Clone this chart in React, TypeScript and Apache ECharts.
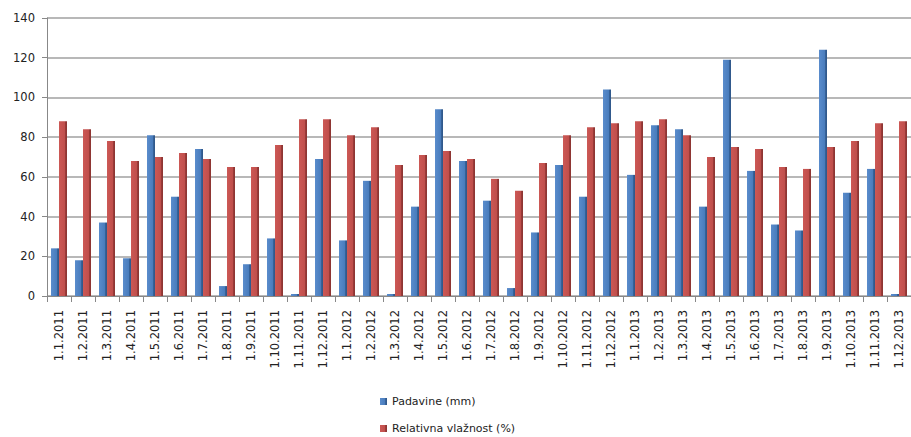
import React, { useEffect, useRef } from "react";
import * as echarts from "echarts";

const categories = [
  "1.1.2011", "1.2.2011", "1.3.2011", "1.4.2011", "1.5.2011", "1.6.2011",
  "1.7.2011", "1.8.2011", "1.9.2011", "1.10.2011", "1.11.2011", "1.12.2011",
  "1.1.2012", "1.2.2012", "1.3.2012", "1.4.2012", "1.5.2012", "1.6.2012",
  "1.7.2012", "1.8.2012", "1.9.2012", "1.10.2012", "1.11.2012", "1.12.2012",
  "1.1.2013", "1.2.2013", "1.3.2013", "1.4.2013", "1.5.2013", "1.6.2013",
  "1.7.2013", "1.8.2013", "1.9.2013", "1.10.2013", "1.11.2013", "1.12.2013",
];

const padavine = [
  24, 18, 37, 19, 81, 50, 74, 5, 16, 29, 1, 69,
  28, 58, 1, 45, 94, 68, 48, 4, 32, 66, 50, 104,
  61, 86, 84, 45, 119, 63, 36, 33, 124, 52, 64, 1,
];

const vlaznost = [
  88, 84, 78, 68, 70, 72, 69, 65, 65, 76, 89, 89,
  81, 85, 66, 71, 73, 69, 59, 53, 67, 81, 85, 87,
  88, 89, 81, 70, 75, 74, 65, 64, 75, 78, 87, 88,
];

const seriesNames = ["Padavine (mm)", "Relativna vlažnost (%)"];

const blueGrad = new echarts.graphic.LinearGradient(0, 0, 1, 0, [
  { offset: 0, color: "#5a8ccc" },
  { offset: 0.7, color: "#4a7dbd" },
  { offset: 0.72, color: "#3a679f" },
  { offset: 1, color: "#2e5587" },
]);
const redGrad = new echarts.graphic.LinearGradient(0, 0, 1, 0, [
  { offset: 0, color: "#cc5855" },
  { offset: 0.7, color: "#c04f4c" },
  { offset: 0.72, color: "#a03e3b" },
  { offset: 1, color: "#8a3331" },
]);

const legendBase = {
  orient: "horizontal",
  left: 378,
  itemWidth: 7,
  itemHeight: 7,
  icon: "rect",
  textStyle: { fontSize: 11, color: "#222", fontFamily: "DejaVu Sans" },
};

export default function App() {
  const ref = useRef<HTMLDivElement>(null);
  useEffect(() => {
    if (!ref.current) return;
    const chart = echarts.init(ref.current, undefined, { renderer: "svg" });
    chart.setOption({
      animation: false,
      backgroundColor: "#ffffff",
      textStyle: { fontFamily: "DejaVu Sans" },
      grid: { left: 47, right: -6, top: 18, bottom: 141, containLabel: false },
      legend: [
        { ...legendBase, top: 394, padding: 2, data: [seriesNames[0]] },
        { ...legendBase, top: 421, padding: 2, data: [seriesNames[1]] },
      ],
      xAxis: {
        type: "category",
        data: categories,
        axisLine: { show: true, lineStyle: { color: "#888", width: 1 } },
        axisTick: { show: true, interval: 0, length: 6, lineStyle: { color: "#888" } },
        axisLabel: {
          interval: 0,
          rotate: 90,
          margin: 14,
          fontSize: 11.5,
          color: "#222",
          fontFamily: "DejaVu Sans",
        },
      },
      yAxis: {
        type: "value",
        min: 0,
        max: 140,
        interval: 20,
        axisLine: { show: true, lineStyle: { color: "#888", width: 1 } },
        axisTick: { show: true, length: 5, lineStyle: { color: "#888" } },
        axisLabel: { fontSize: 11.5, color: "#222", margin: 12, fontFamily: "DejaVu Sans" },
        splitLine: { show: true, lineStyle: { color: "#a0a0a0", width: 1.5 } },
      },
      series: [
        {
          name: seriesNames[0],
          type: "bar",
          data: padavine,
          barWidth: 8,
          barGap: "0%",
          itemStyle: { color: blueGrad },
        },
        {
          name: seriesNames[1],
          type: "bar",
          data: vlaznost,
          barWidth: 8,
          barGap: "0%",
          itemStyle: { color: redGrad },
        },
      ],
    });
    return () => chart.dispose();
  }, []);
  return (
    <div
      ref={ref}
      style={{ position: "fixed", left: 0, top: 0, width: 911, height: 437 }}
    />
  );
}
